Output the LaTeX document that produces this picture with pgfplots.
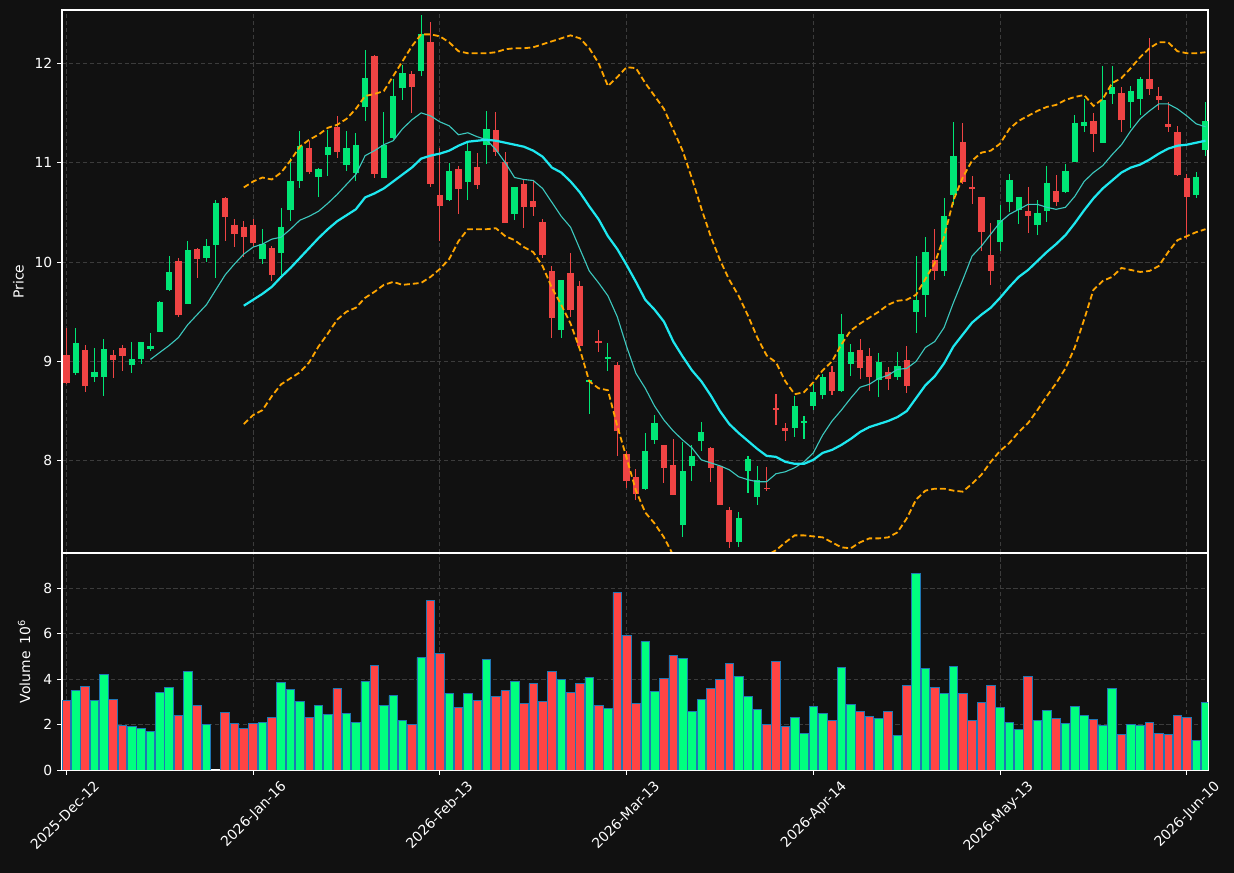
\documentclass[border=0pt]{standalone}
\usepackage{fontspec}
\setmainfont{DejaVu Sans}
\usepackage{pgfplots}
\usepackage{pgfplotstable}
\pgfplotsset{compat=1.18}

\definecolor{bg}{HTML}{111111}
\definecolor{gridc}{HTML}{3C3C3C}
\definecolor{candleup}{HTML}{00E676}
\definecolor{candledown}{HTML}{EF4444}
\definecolor{volup}{HTML}{00FF7F}
\definecolor{voldown}{HTML}{FF4444}
\definecolor{voledge}{HTML}{1F77B4}
\definecolor{maten}{HTML}{3CC8BE}
\definecolor{matwenty}{HTML}{1EE8F0}
\definecolor{band}{HTML}{FFA500}

% daily bars: index, open, high, low, close, volume (millions)
\pgfplotstableread{
i o h l c v
1 8.88 9.34 8.86 9.19 3.50
3 8.84 9.13 8.79 8.89 3.06
4 8.84 9.23 8.65 9.12 4.21
7 8.96 9.20 8.88 9.02 1.92
8 9.02 9.20 8.97 9.20 1.82
9 9.13 9.29 9.10 9.16 1.69
10 9.30 9.61 9.30 9.60 3.41
11 9.72 10.06 9.71 9.90 3.63
13 9.58 10.21 9.58 10.12 4.34
15 10.04 10.23 10.00 10.16 2.00
16 10.17 10.62 9.84 10.59 nan
21 10.03 10.33 9.98 10.18 2.09
23 10.09 10.54 9.87 10.35 3.85
24 10.52 11.05 10.41 10.81 3.54
25 10.81 11.32 10.74 11.17 3.01
27 10.86 10.95 10.65 10.94 2.84
28 11.08 11.33 10.87 11.16 2.44
30 10.98 11.32 10.92 11.15 2.49
31 10.90 11.30 10.81 11.18 2.09
32 11.56 12.13 11.42 11.85 3.90
34 10.85 11.51 10.85 11.18 2.84
35 11.25 11.84 11.24 11.67 3.28
36 11.75 11.98 11.63 11.90 2.18
38 11.92 12.48 11.87 12.29 4.96
41 10.62 11.00 10.61 10.92 3.37
43 10.80 11.20 10.62 11.12 3.37
45 11.18 11.52 10.99 11.34 4.87
48 10.48 10.75 10.42 10.75 3.90
53 9.32 9.82 9.24 9.82 3.99
56 8.79 8.81 8.47 8.81 4.07
58 9.02 9.19 8.90 9.04 2.71
62 7.72 8.28 7.71 8.10 5.66
63 8.21 8.46 8.17 8.38 3.46
66 7.35 8.19 7.23 7.90 4.91
67 7.95 8.16 7.80 8.05 2.57
68 8.20 8.39 8.10 8.29 3.10
72 7.18 7.49 7.13 7.42 4.12
73 7.90 8.05 7.68 8.02 3.24
74 7.64 7.95 7.56 7.81 2.66
78 8.33 8.65 8.24 8.55 2.31
79 8.39 8.45 8.22 8.40 1.60
80 8.55 8.77 8.51 8.69 2.79
81 8.66 8.87 8.62 8.84 2.49
83 8.70 9.48 8.69 9.28 4.51
84 8.97 9.18 8.85 9.09 2.88
87 8.81 9.08 8.64 8.99 2.26
89 8.84 9.09 8.81 8.95 1.51
91 9.50 10.06 9.29 9.62 8.67
92 9.67 10.25 9.45 10.10 4.47
94 9.91 10.64 9.86 10.46 3.37
95 10.67 11.41 10.57 11.07 4.56
100 10.20 10.57 10.11 10.42 2.75
101 10.60 10.89 10.50 10.83 2.09
102 10.52 10.65 10.38 10.65 1.78
104 10.37 10.62 10.27 10.49 2.18
105 10.51 10.97 10.40 10.79 2.62
107 10.70 10.99 10.69 10.92 2.04
108 11.01 11.48 11.01 11.40 2.79
109 11.37 11.64 11.31 11.41 2.40
111 11.20 11.97 11.20 11.63 1.96
112 11.69 11.97 11.59 11.76 3.59
114 11.61 11.77 11.35 11.72 2.00
115 11.64 11.86 11.48 11.84 1.96
121 10.67 10.91 10.64 10.86 1.29
122 11.13 11.61 11.07 11.42 2.97
}\uptab

\pgfplotstableread{
i o h l c v
0 9.06 9.34 8.77 8.78 3.06
2 9.11 9.17 8.69 8.75 3.68
5 9.06 9.12 8.83 9.01 3.10
6 9.14 9.17 8.90 9.05 1.97
12 10.01 10.04 9.45 9.47 2.40
14 10.13 10.14 9.84 10.03 2.84
17 10.64 10.65 10.21 10.45 2.53
18 10.37 10.43 10.15 10.28 2.04
19 10.35 10.41 10.05 10.25 1.82
20 10.37 10.43 10.15 10.19 2.04
22 10.14 10.16 9.81 9.87 2.31
26 11.15 11.22 10.89 10.91 2.31
29 11.36 11.47 11.05 11.11 3.59
33 12.07 12.08 10.84 10.89 4.60
37 11.89 11.92 11.50 11.76 2.00
39 12.21 12.41 10.75 10.78 7.47
40 10.67 11.15 10.21 10.56 5.13
42 10.94 10.97 10.48 10.73 2.75
44 10.96 11.10 10.73 10.77 3.06
46 11.33 11.51 11.07 11.11 3.24
47 11.01 11.11 10.39 10.39 3.50
49 10.78 10.82 10.34 10.55 2.93
50 10.61 10.81 10.46 10.55 3.81
51 10.40 10.43 10.04 10.07 3.01
52 9.91 9.96 9.24 9.44 4.34
54 9.89 10.09 9.45 9.52 3.41
55 9.76 9.81 9.13 9.16 3.81
57 9.21 9.32 9.09 9.19 2.84
59 8.96 8.99 8.05 8.30 7.83
60 8.07 8.10 7.73 7.80 5.93
61 7.84 7.92 7.61 7.67 2.93
64 8.16 8.16 7.78 7.93 4.03
65 7.96 8.22 7.66 7.66 5.05
69 8.13 8.14 7.79 7.93 3.59
70 7.95 7.95 7.56 7.56 3.99
71 7.51 7.54 7.12 7.18 4.69
75 7.73 7.94 7.70 7.72 2.00
76 8.53 8.67 8.36 8.51 4.78
77 8.33 8.38 8.20 8.30 1.91
82 8.89 8.95 8.66 8.70 2.18
85 9.11 9.23 8.82 8.93 2.57
86 9.05 9.14 8.70 8.84 2.35
88 8.89 8.94 8.71 8.82 2.57
90 9.01 9.16 8.68 8.75 3.72
93 10.02 10.33 9.82 9.91 3.63
96 11.21 11.40 10.78 10.80 3.37
97 10.75 10.87 10.58 10.73 2.18
98 10.65 10.65 10.11 10.30 2.97
99 10.07 10.39 9.77 9.91 3.72
103 10.51 10.75 10.29 10.46 4.12
106 10.71 10.88 10.56 10.60 2.26
110 11.42 11.50 11.11 11.29 2.22
113 11.70 11.76 11.31 11.43 1.56
116 11.84 12.25 11.68 11.74 2.09
117 11.67 11.76 11.53 11.63 1.60
118 11.39 11.61 11.31 11.36 1.56
119 11.31 11.37 10.87 10.88 2.40
120 10.84 10.89 10.23 10.65 2.31
}\downtab

% 10- and 20-day averages with the 20-day bands
\pgfplotstableread{
i ma10 ma20 bbu bbl
9 9.02 nan nan nan
10 9.09 nan nan nan
11 9.16 nan nan nan
12 9.24 nan nan nan
13 9.37 nan nan nan
14 9.47 nan nan nan
15 9.57 nan nan nan
16 9.72 nan nan nan
17 9.87 nan nan nan
18 9.98 nan nan nan
19 10.08 9.56 10.75 8.37
20 10.15 9.62 10.81 8.46
21 10.18 9.68 10.85 8.51
22 10.23 9.75 10.83 8.65
23 10.25 9.85 10.90 8.77
24 10.33 9.94 11.02 8.83
25 10.42 10.04 11.16 8.89
26 10.46 10.14 11.23 8.99
27 10.51 10.24 11.28 9.15
28 10.59 10.33 11.35 9.28
29 10.68 10.41 11.38 9.42
30 10.78 10.47 11.44 9.50
31 10.88 10.53 11.54 9.54
32 11.07 10.65 11.67 9.64
33 11.12 10.69 11.69 9.70
34 11.18 10.74 11.72 9.77
35 11.22 10.81 11.87 9.80
36 11.34 10.88 12.02 9.77
37 11.43 10.95 12.17 9.78
38 11.50 11.04 12.29 9.79
39 11.47 11.07 12.29 9.85
40 11.41 11.09 12.27 9.93
41 11.37 11.12 12.21 10.03
42 11.28 11.17 12.12 10.21
43 11.30 11.21 12.10 10.33
44 11.26 11.22 12.10 10.33
45 11.23 11.23 12.10 10.33
46 11.13 11.22 12.11 10.34
47 11.00 11.20 12.14 10.26
48 10.85 11.18 12.15 10.22
49 10.83 11.16 12.15 10.15
50 10.82 11.12 12.16 10.10
51 10.74 11.06 12.19 9.96
52 10.60 10.95 12.22 9.74
53 10.46 10.90 12.25 9.57
54 10.35 10.81 12.28 9.38
55 10.13 10.70 12.25 9.12
56 9.91 10.56 12.15 8.80
57 9.79 10.43 12.00 8.73
58 9.66 10.26 11.77 8.71
59 9.45 10.13 11.86 8.35
60 9.15 9.97 11.96 8.03
61 8.88 9.80 11.95 7.70
62 8.73 9.62 11.80 7.48
63 8.55 9.52 11.67 7.37
64 8.41 9.40 11.54 7.23
65 8.30 9.20 11.33 7.05
66 8.21 9.05 11.12 6.98
67 8.13 8.91 10.84 6.98
68 8.01 8.80 10.54 7.02
69 7.98 8.66 10.26 7.04
70 7.95 8.50 10.02 6.98
71 7.91 8.37 9.82 6.92
72 7.84 8.28 9.66 6.90
73 7.81 8.20 9.46 6.94
74 7.79 8.12 9.24 7.00
75 7.79 8.05 9.06 7.05
76 7.87 8.04 8.99 7.10
77 7.89 7.99 8.80 7.18
78 7.93 7.97 8.67 7.25
79 7.99 7.97 8.69 7.25
80 8.08 8.01 8.79 7.24
81 8.26 8.08 8.91 7.23
82 8.40 8.11 9.00 7.18
83 8.51 8.16 9.17 7.13
84 8.63 8.22 9.31 7.12
85 8.74 8.29 9.38 7.18
86 8.77 8.34 9.44 7.22
87 8.83 8.37 9.50 7.22
88 8.86 8.40 9.57 7.23
89 8.92 8.44 9.61 7.28
90 8.93 8.50 9.62 7.42
91 9.00 8.63 9.67 7.61
92 9.14 8.76 9.83 7.70
93 9.20 8.85 9.99 7.72
94 9.34 8.98 10.25 7.72
95 9.59 9.15 10.62 7.70
96 9.82 9.27 10.85 7.69
97 10.06 9.39 11.02 7.77
98 10.16 9.47 11.10 7.86
99 10.28 9.54 11.12 7.99
100 10.40 9.64 11.19 8.10
101 10.48 9.75 11.34 8.18
102 10.53 9.85 11.42 8.29
103 10.58 9.92 11.47 8.38
104 10.58 10.01 11.52 8.51
105 10.55 10.10 11.56 8.65
106 10.53 10.18 11.58 8.78
107 10.55 10.27 11.63 8.93
108 10.66 10.39 11.66 9.14
109 10.81 10.52 11.68 9.42
110 10.90 10.64 11.57 9.72
111 10.97 10.74 11.64 9.81
112 11.08 10.82 11.80 9.85
113 11.18 10.90 11.85 9.94
114 11.32 10.95 11.95 9.92
115 11.44 10.98 12.06 9.90
116 11.52 11.03 12.15 9.91
117 11.59 11.09 12.21 9.96
118 11.59 11.14 12.21 10.10
119 11.54 11.17 12.12 10.22
120 11.47 11.18 12.10 10.26
121 11.39 11.20 12.10 10.30
122 11.36 11.22 12.11 10.33
}\bands

\pgfplotsset{
  panel/.style={
    scale only axis, width=825.12pt,
    xmin=-0.47, xmax=122.27,
    axis background/.style={fill=bg},
    axis line style={white, line width=0.8pt},
    grid=major,
    grid style={gridc, line width=0.7pt, dash pattern=on 3.2pt off 1.8pt},
    tick align=outside, major tick length=3.5pt,
    tick style={white, line width=0.7pt},
    tick pos=left,
    xtick={0,20,...,120},
    ticklabel style={font=\fontsize{10}{12}\selectfont, text=white},
    label style={font=\fontsize{10}{12}\selectfont, text=white},
    /pgf/number format/assume math mode=true,
  },
  % a candle segment is an error bar of given width around the segment's middle
  candleseg/.style 2 args={forget plot, draw=none, mark=none,
    error bars/.cd, y dir=both, y explicit, error mark=none,
    error bar style={draw=#1, line width=#2, solid}},
  volbar/.style={ybar, bar width=0.92, bar shift=0pt, fill=#1, draw=voledge,
    line width=0.5pt, unbounded coords=discard, restrict y to domain=0.01:100},
}

\begin{document}
\begin{tikzpicture}
\fill[bg] (0pt,0pt) rectangle (888.48pt,628.56pt);

% price panel
\begin{axis}[panel,
  at={(44.64pt,230.4pt)}, anchor=south west, height=390.96pt,
  ymin=7.073, ymax=12.535, ytick={8,9,10,11,12},
  xticklabels={}, x tick style={draw=none},
  ylabel={Price},
  ylabel style={at={(axis description cs:-0.038,0.5)}, anchor=center},
]
  \addplot[candleseg={candleup}{0.75pt}] table[x=i, y expr={(\thisrow{h}+\thisrow{l})/2},
    y error expr={(\thisrow{h}-\thisrow{l})/2}] {\uptab};
  \addplot[candleseg={candleup}{4.5pt}] table[x=i, y expr={(\thisrow{o}+\thisrow{c})/2},
    y error expr={max(abs(\thisrow{c}-\thisrow{o})/2,0.005)}] {\uptab};
  \addplot[candleseg={candledown}{0.75pt}] table[x=i, y expr={(\thisrow{h}+\thisrow{l})/2},
    y error expr={(\thisrow{h}-\thisrow{l})/2}] {\downtab};
  \addplot[candleseg={candledown}{4.5pt}] table[x=i, y expr={(\thisrow{o}+\thisrow{c})/2},
    y error expr={max(abs(\thisrow{c}-\thisrow{o})/2,0.005)}] {\downtab};

  \addplot[maten, line width=0.8pt] table[x=i, y=ma10] {\bands};
  \addplot[matwenty, line width=1.6pt] table[x=i, y=ma20] {\bands};
  \addplot[band, line width=1.3pt, dash pattern=on 4.2pt off 2.2pt] table[x=i, y=bbu] {\bands};
  \addplot[band, line width=1.3pt, dash pattern=on 4.2pt off 2.2pt] table[x=i, y=bbl] {\bands};
\end{axis}

% volume panel
\begin{axis}[panel,
  at={(44.64pt,74.16pt)}, anchor=south west, height=156.24pt,
  ymin=0, ymax=9.57, ytick={0,2,4,6,8},
  xticklabels={2025-Dec-12,2026-Jan-16,2026-Feb-13,2026-Mar-13,2026-Apr-14,2026-May-13,2026-Jun-10},
  xticklabel style={inner sep=1pt, anchor=north east, xshift=19pt, yshift=-2pt, rotate=45},
  ylabel={Volume\enspace 10\textsuperscript{6}},
  ylabel style={at={(axis description cs:-0.033,0.5)}, anchor=center},
]
  \addplot[volbar=volup] table[x=i, y=v] {\uptab};
  \addplot[volbar=voldown] table[x=i, y=v] {\downtab};
\end{axis}
\end{tikzpicture}
\end{document}
